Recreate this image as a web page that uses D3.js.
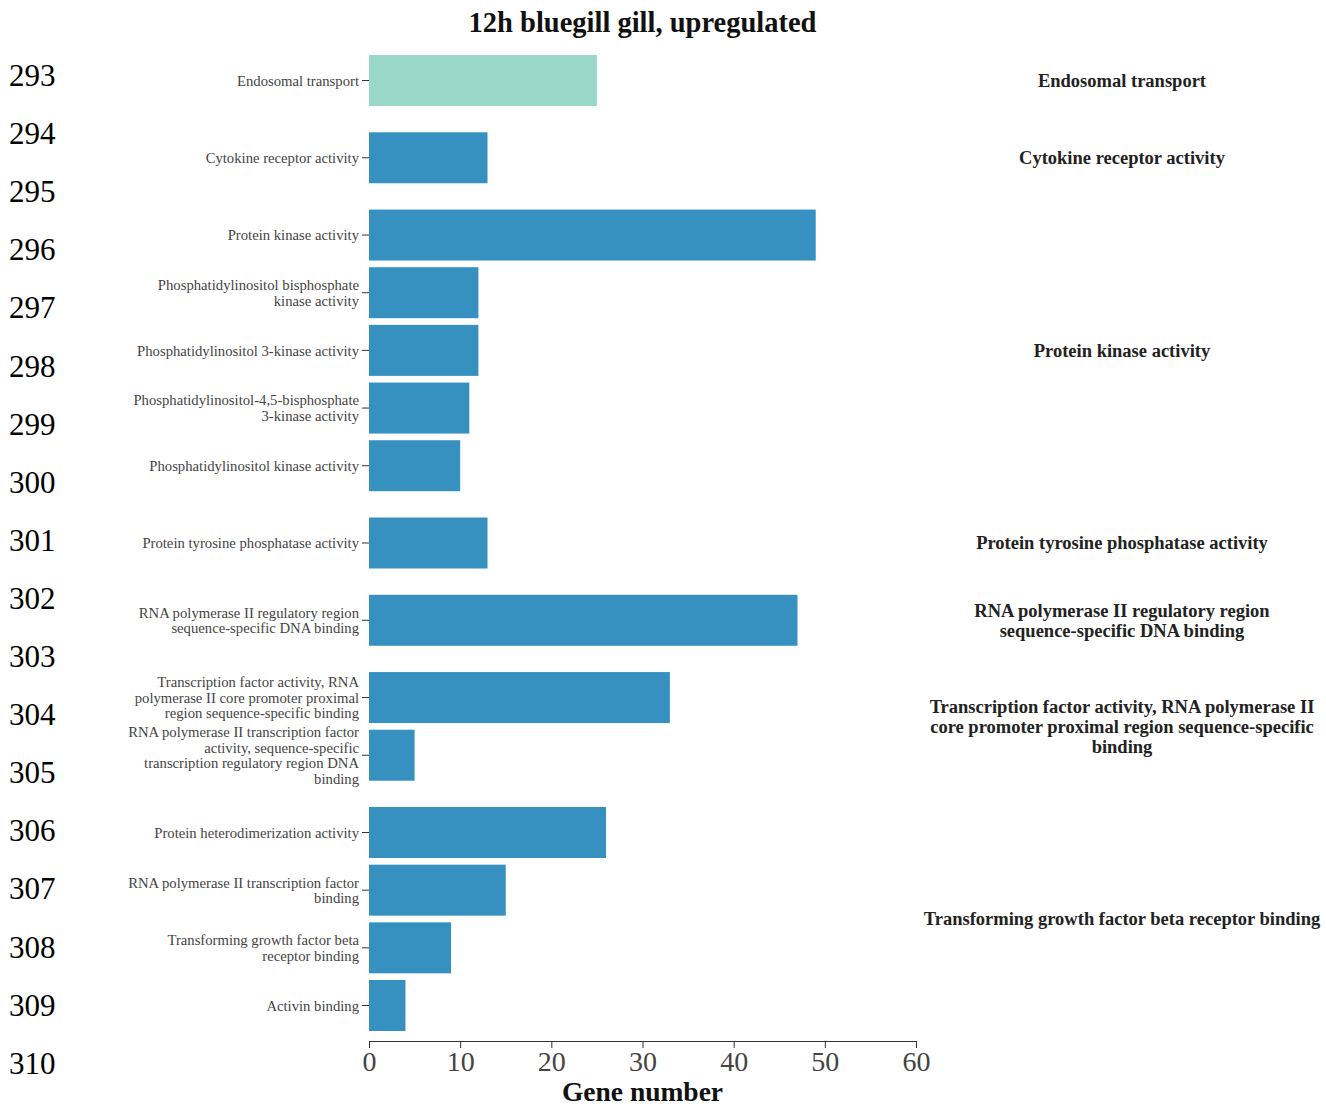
<!DOCTYPE html>
<html>
<head>
<meta charset="utf-8">
<script src="https://cdn.jsdelivr.net/npm/d3@7"></script>
<style>
  body { margin: 0; background: #fff; }
  svg { display: block; font-family: "Liberation Serif", "DejaVu Serif", serif; }
</style>
</head>
<body>
<div id="chart"></div>
<script>
// GO terms (top to bottom), wrapped the way they are printed on the axis
const termLines = [
  ["Endosomal transport"],
  ["Cytokine receptor activity"],
  ["Protein kinase activity"],
  ["Phosphatidylinositol bisphosphate", "kinase activity"],
  ["Phosphatidylinositol 3-kinase activity"],
  ["Phosphatidylinositol-4,5-bisphosphate", "3-kinase activity"],
  ["Phosphatidylinositol kinase activity"],
  ["Protein tyrosine phosphatase activity"],
  ["RNA polymerase II regulatory region", "sequence-specific DNA binding"],
  ["Transcription factor activity, RNA", "polymerase II core promoter proximal", "region sequence-specific binding"],
  ["RNA polymerase II transcription factor", "activity, sequence-specific", "transcription regulatory region DNA", "binding"],
  ["Protein heterodimerization activity"],
  ["RNA polymerase II transcription factor", "binding"],
  ["Transforming growth factor beta", "receptor binding"],
  ["Activin binding"]
];
const geneCounts = [25, 13, 49, 12, 12, 11, 10, 13, 47, 33, 5, 26, 15, 9, 4];
// cluster each term belongs to
const termGroup = [0, 1, 2, 2, 2, 2, 2, 3, 4, 5, 5, 6, 6, 6, 6];
const groupLines = [
  ["Endosomal transport"],
  ["Cytokine receptor activity"],
  ["Protein kinase activity"],
  ["Protein tyrosine phosphatase activity"],
  ["RNA polymerase II regulatory region", "sequence-specific DNA binding"],
  ["Transcription factor activity, RNA polymerase II", "core promoter proximal region sequence-specific", "binding"],
  ["Transforming growth factor beta receptor binding"]
];
const xTicks = [0, 10, 20, 30, 40, 50, 60];
const lineNumbers = [293, 294, 295, 296, 297, 298, 299, 300, 301, 302, 303, 304, 305, 306, 307, 308, 309, 310];

const W = 1326, H = 1106;
const plotLeft = 369, plotRight = 916, plotTop = 55, plotBottom = 1031;
const axisY = 1041;
const groupGap = 0.34;   // extra space between clusters, in bar steps
const barFrac = 0.884;   // bar height as a share of one step

const svg = d3.select("#chart").append("svg")
  .attr("width", W).attr("height", H);

// slot position of each bar, with a gap inserted between clusters
const pos = geneCounts.map((d, i) => i + termGroup[i] * groupGap);
const y = d3.scaleLinear()
  .domain([0, pos[pos.length - 1] + barFrac])
  .range([plotTop, plotBottom]);
const barH = y(barFrac) - y(0);

const x = d3.scaleLinear().domain([0, 60]).range([plotLeft, plotRight]);

// line numbers down the left margin
svg.append("g").selectAll("text")
  .data(lineNumbers)
  .join("text")
  .attr("x", 9)
  .attr("y", (d, i) => 86 + i * 58.1)
  .attr("font-size", 31)
  .attr("fill", "#000")
  .text(d => d);

// title
svg.append("text")
  .attr("x", (plotLeft + plotRight) / 2)
  .attr("y", 32)
  .attr("text-anchor", "middle")
  .attr("font-size", 28.5)
  .attr("font-weight", "bold")
  .attr("fill", "#111")
  .text("12h bluegill gill, upregulated");

// bars
svg.append("g").selectAll("rect")
  .data(geneCounts)
  .join("rect")
  .attr("x", x(0))
  .attr("y", (d, i) => y(pos[i]))
  .attr("width", d => x(d) - x(0))
  .attr("height", barH)
  .attr("fill", (d, i) => termGroup[i] === 0 ? "#99d8c9" : "#3690c0");

// y ticks and wrapped term labels
const yt = svg.append("g").selectAll("g")
  .data(termLines)
  .join("g")
  .attr("transform", (d, i) => `translate(0,${y(pos[i]) + barH / 2})`);
yt.append("line")
  .attr("x1", plotLeft - 7).attr("x2", plotLeft)
  .attr("stroke", "#333").attr("stroke-width", 1);
const lh = 15.6;
yt.append("text")
  .attr("text-anchor", "end")
  .attr("font-size", 14.7)
  .attr("fill", "#444")
  .each(function(lines) {
    const t = d3.select(this);
    const y0 = -(lines.length - 1) * lh / 2;
    lines.forEach((s, k) => {
      t.append("tspan")
        .attr("x", plotLeft - 10)
        .attr("y", y0 + k * lh)
        .attr("dy", "0.35em")
        .text(s);
    });
  });

// cluster names on the right, centred on their block of bars
const groupCenter = groupLines.map((g, gi) => {
  const idx = termGroup.map((t, i) => t === gi ? i : -1).filter(i => i >= 0);
  const top = y(pos[idx[0]]);
  const bot = y(pos[idx[idx.length - 1]]) + barH;
  return (top + bot) / 2;
});
const glh = 20;
svg.append("g").selectAll("text")
  .data(groupLines)
  .join("text")
  .attr("text-anchor", "middle")
  .attr("font-size", 18.5)
  .attr("font-weight", "bold")
  .attr("fill", "#222")
  .each(function(lines, gi) {
    const t = d3.select(this);
    const y0 = groupCenter[gi] - (lines.length - 1) * glh / 2;
    lines.forEach((s, k) => {
      t.append("tspan")
        .attr("x", 1122)
        .attr("y", y0 + k * glh)
        .attr("dy", "0.35em")
        .text(s);
    });
  });

// x axis
const xAxis = svg.append("g")
  .attr("transform", `translate(0,${axisY})`)
  .call(d3.axisBottom(x).tickValues(xTicks).tickSize(7).tickSizeOuter(7).tickPadding(3));
xAxis.select(".domain").attr("stroke", "#333");
xAxis.selectAll(".tick line").attr("stroke", "#333");
xAxis.selectAll(".tick text")
  .attr("font-family", "Liberation Serif, serif")
  .attr("font-size", 28)
  .attr("fill", "#444");

svg.append("text")
  .attr("x", (plotLeft + plotRight) / 2)
  .attr("y", 1101)
  .attr("text-anchor", "middle")
  .attr("font-size", 27.5)
  .attr("font-weight", "bold")
  .attr("fill", "#111")
  .text("Gene number");
</script>
</body>
</html>
